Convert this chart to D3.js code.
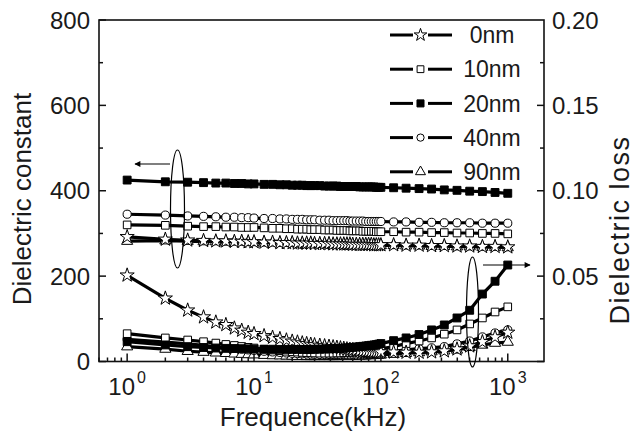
<!DOCTYPE html>
<html>
<head>
<meta charset="utf-8">
<script src="https://cdn.jsdelivr.net/npm/d3@7"></script>
<style>
	body { margin: 0; background: #fff; }
	text { font-family: "Liberation Sans", Arial, sans-serif; fill: #1a1a1a; }
</style>
</head>
<body>
<div id="chart-area"></div>
<script>

// frequencies in kHz
var freq = [1, 2, 3, 4, 5, 6, 7, 8, 9, 10,
	12, 14, 16, 18, 20, 22, 24, 26, 28, 30,
	33, 36, 39, 42, 45, 48, 51, 54, 57, 60,
	64, 68, 72, 76, 80, 84, 88, 92, 96, 100,
	126, 158, 200, 251, 316, 398, 501, 631, 794, 1000];

var sampleNames = ["0nm", "10nm", "20nm", "40nm", "90nm"];

// dielectric constant (left axis)
var eps0 = [292, 286, 284, 283, 282, 282, 281, 281, 280, 280,
	279, 279, 278, 278, 278, 277, 277, 277, 277, 276,
	276, 276, 276, 275, 275, 275, 275, 275, 275, 274,
	274, 274, 274, 274, 274, 274, 273, 273, 273, 273,
	273, 272, 272, 271, 271, 270, 270, 269, 269, 268];
var eps10 = [320, 319, 317, 316, 316, 315, 315, 314, 314, 314,
	313, 312, 312, 311, 311, 310, 310, 310, 309, 309,
	309, 308, 308, 308, 307, 307, 307, 307, 306, 306,
	306, 306, 305, 305, 305, 305, 305, 304, 304, 304,
	304, 303, 303, 302, 302, 301, 301, 300, 300, 299];
var eps20 = [425, 421, 420, 419, 418, 418, 417, 417, 416, 416,
	415, 415, 414, 414, 413, 413, 413, 412, 412, 412,
	412, 411, 411, 411, 411, 410, 410, 410, 410, 410,
	410, 409, 409, 409, 409, 409, 409, 408, 408, 408,
	407, 406, 405, 404, 402, 401, 399, 398, 396, 394];
var eps40 = [345, 343, 341, 340, 339, 338, 338, 337, 337, 336,
	335, 335, 334, 334, 333, 333, 333, 332, 332, 332,
	331, 331, 331, 330, 330, 330, 330, 330, 329, 329,
	329, 329, 329, 328, 328, 328, 328, 328, 328, 328,
	327, 327, 326, 326, 325, 325, 325, 324, 324, 324];
var eps90 = [282, 283, 282, 281, 281, 280, 280, 280, 279, 279,
	278, 278, 277, 277, 277, 276, 276, 276, 276, 275,
	275, 275, 275, 274, 274, 274, 274, 274, 274, 273,
	273, 273, 273, 273, 273, 272, 272, 272, 272, 272,
	272, 271, 271, 270, 270, 269, 269, 268, 268, 267];

// dielectric loss (right axis)
var loss0 = [0.0505, 0.037, 0.030, 0.026, 0.023, 0.0215, 0.0195, 0.0182, 0.017, 0.0162,
	0.015, 0.0141, 0.0133, 0.0125, 0.0118, 0.0113, 0.0108, 0.0104, 0.0100, 0.0097,
	0.0094, 0.0091, 0.0088, 0.0085, 0.0082, 0.0079, 0.0076, 0.0073, 0.0070, 0.0068,
	0.0066, 0.0063, 0.0061, 0.0060, 0.0059, 0.0058, 0.0057, 0.0056, 0.0055, 0.0055,
	0.0054, 0.0053, 0.0053, 0.0055, 0.0061, 0.0072, 0.0090, 0.0115, 0.0143, 0.0170];
var loss10 = [0.0163, 0.0138, 0.0126, 0.0116, 0.0108, 0.0100, 0.0094, 0.0088, 0.0083, 0.0079,
	0.0072, 0.0067, 0.0063, 0.0060, 0.0057, 0.0055, 0.0053, 0.0052, 0.0051, 0.0050,
	0.0049, 0.0049, 0.0049, 0.0049, 0.0050, 0.0050, 0.0051, 0.0052, 0.0053, 0.0054,
	0.0056, 0.0058, 0.0060, 0.0062, 0.0064, 0.0066, 0.0068, 0.0070, 0.0072, 0.0074,
	0.0088, 0.0105, 0.0120, 0.0138, 0.0160, 0.0185, 0.0220, 0.0255, 0.0290, 0.0320];
var loss20 = [0.0116, 0.0097, 0.0087, 0.0082, 0.0079, 0.0077, 0.0076, 0.0075, 0.0074, 0.0073,
	0.0072, 0.0072, 0.0071, 0.0071, 0.0071, 0.0071, 0.0071, 0.0071, 0.0071, 0.0072,
	0.0072, 0.0073, 0.0074, 0.0075, 0.0076, 0.0077, 0.0078, 0.0080, 0.0081, 0.0083,
	0.0085, 0.0087, 0.0089, 0.0091, 0.0093, 0.0095, 0.0097, 0.0099, 0.0102, 0.0105,
	0.0122, 0.0138, 0.0158, 0.0185, 0.0214, 0.0255, 0.0300, 0.0395, 0.0470, 0.0565];
var loss40 = [0.0130, 0.0114, 0.0103, 0.0095, 0.0088, 0.0082, 0.0077, 0.0072, 0.0068, 0.0065,
	0.0060, 0.0056, 0.0053, 0.0050, 0.0048, 0.0046, 0.0045, 0.0044, 0.0043, 0.0042,
	0.0041, 0.0041, 0.0041, 0.0041, 0.0041, 0.0041, 0.0042, 0.0042, 0.0043, 0.0043,
	0.0044, 0.0045, 0.0046, 0.0047, 0.0048, 0.0049, 0.0050, 0.0051, 0.0052, 0.0053,
	0.0060, 0.0068, 0.0075, 0.0080, 0.0087, 0.0103, 0.0120, 0.0144, 0.0167, 0.0185];
var loss90 = [0.0087, 0.0073, 0.0060, 0.0055, 0.0051, 0.0048, 0.0045, 0.0043, 0.0041, 0.0040,
	0.0037, 0.0035, 0.0034, 0.0033, 0.0032, 0.0031, 0.0031, 0.0030, 0.0030, 0.0030,
	0.0030, 0.0030, 0.0030, 0.0030, 0.0030, 0.0031, 0.0031, 0.0031, 0.0032, 0.0032,
	0.0033, 0.0033, 0.0034, 0.0034, 0.0035, 0.0036, 0.0036, 0.0037, 0.0038, 0.0039,
	0.0043, 0.0048, 0.0053, 0.0058, 0.0063, 0.0068, 0.0083, 0.0097, 0.0108, 0.0114];

var epsTicks = [0, 200, 400, 600, 800];
var lossTicks = [0.05, 0.10, 0.15, 0.20];
var freqTicks = [1, 10, 100, 1000];

var width = 636,
	height = 440;
var margin = {top: 20, right: 92, bottom: 78.5, left: 99};

var svg = d3.select("#chart-area").append("svg")
	.attr("width", width)
	.attr("height", height);

var plotW = width - margin.left - margin.right,
	plotH = height - margin.top - margin.bottom;

var g = svg.append("g")
	.attr("transform", "translate(" + margin.left + "," + margin.top + ")");

// scales
var x = d3.scaleLog()
	.domain([0.6, 1930])
	.range([0, plotW]);

var yEps = d3.scaleLinear()
	.domain([0, 800])
	.range([plotH, 0]);

var yLoss = d3.scaleLinear()
	.domain([0, 0.2])
	.range([plotH, 0]);

// symbol for each sample
var symbolType = {
	"0nm": d3.symbolStar,
	"10nm": d3.symbolSquare,
	"20nm": d3.symbolSquare,
	"40nm": d3.symbolCircle,
	"90nm": d3.symbolTriangle
};
var symbolSize = {"0nm": 62, "10nm": 58, "20nm": 62, "40nm": 52, "90nm": 54};
var symbolFill = {"0nm": "#fff", "10nm": "#fff", "20nm": "#000", "40nm": "#fff", "90nm": "#fff"};

var epsData = {"0nm": eps0, "10nm": eps10, "20nm": eps20, "40nm": eps40, "90nm": eps90};
var lossData = {"0nm": loss0, "10nm": loss10, "20nm": loss20, "40nm": loss40, "90nm": loss90};

// drawing order, filled squares on top
var drawOrder = ["90nm", "40nm", "10nm", "0nm", "20nm"];

var drawSeries = function(name, values, yScale) {
	var pts = freq.map(function(f, i) { return [f, values[i]]; });

	var line = d3.line()
		.x(function(d) { return x(d[0]); })
		.y(function(d) { return yScale(d[1]); });

	g.append("path")
		.datum(pts)
		.attr("fill", "none")
		.attr("stroke", "#000")
		.attr("stroke-width", 3.2)
		.attr("d", line);

	g.append("g").selectAll("path")
		.data(pts)
		.enter()
		.append("path")
		.attr("transform", function(d) {
			return "translate(" + x(d[0]) + "," + yScale(d[1]) + ")";
		})
		.attr("d", d3.symbol().type(symbolType[name]).size(symbolSize[name]))
		.attr("fill", symbolFill[name])
		.attr("stroke", "#000")
		.attr("stroke-width", 1);
};

drawOrder.forEach(function(name) {
	drawSeries(name, lossData[name], yLoss);
});
drawOrder.forEach(function(name) {
	drawSeries(name, epsData[name], yEps);
});

// frame and ticks (ticks point inward like Origin)
var axisGroup = g.append("g");

axisGroup.append("rect")
	.attr("width", plotW)
	.attr("height", plotH)
	.attr("fill", "none")
	.attr("stroke", "#111")
	.attr("stroke-width", 1.6);

// left ticks
axisGroup.selectAll(".ltick")
	.data(d3.range(0, 801, 100))
	.enter()
	.append("line")
	.attr("x1", 0)
	.attr("x2", function(d) { return d % 200 === 0 ? 7 : 4; })
	.attr("y1", function(d) { return yEps(d); })
	.attr("y2", function(d) { return yEps(d); })
	.attr("stroke", "#111")
	.attr("stroke-width", 1.5);

// right ticks
axisGroup.selectAll(".rtick")
	.data(d3.range(0, 8).map(function(i) { return 0.025 * i; }))
	.enter()
	.append("line")
	.attr("x1", plotW)
	.attr("x2", function(d, i) { return i % 2 === 0 ? plotW - 7 : plotW - 4; })
	.attr("y1", function(d) { return yLoss(d); })
	.attr("y2", function(d) { return yLoss(d); })
	.attr("stroke", "#111")
	.attr("stroke-width", 1.5);

// bottom log ticks
var minorFreq = [0.6, 0.7, 0.8, 0.9];
[1, 10, 100].forEach(function(dec) {
	for (var k = 2; k <= 9; k++) minorFreq.push(k * dec);
});
axisGroup.selectAll(".btick")
	.data(freqTicks.concat(minorFreq))
	.enter()
	.append("line")
	.attr("x1", function(d) { return x(d); })
	.attr("x2", function(d) { return x(d); })
	.attr("y1", plotH)
	.attr("y2", function(d) { return freqTicks.indexOf(d) >= 0 ? plotH - 8 : plotH - 4; })
	.attr("stroke", "#111")
	.attr("stroke-width", 1.5);

// tick labels
g.selectAll(".ylab")
	.data(epsTicks)
	.enter()
	.append("text")
	.attr("x", -9)
	.attr("y", function(d) { return yEps(d); })
	.attr("dy", "0.36em")
	.attr("text-anchor", "end")
	.style("font-size", "24px")
	.text(function(d) { return d; });

g.selectAll(".rlab")
	.data(lossTicks)
	.enter()
	.append("text")
	.attr("x", plotW + 8)
	.attr("y", function(d) { return yLoss(d); })
	.attr("dy", "0.36em")
	.attr("text-anchor", "start")
	.style("font-size", "24px")
	.text(function(d) { return d3.format(".2f")(d); });

var xlab = g.selectAll(".xlab")
	.data(freqTicks)
	.enter()
	.append("text")
	.attr("x", function(d) { return x(d); })
	.attr("y", plotH + 33)
	.attr("text-anchor", "middle")
	.style("font-size", "24px");
xlab.append("tspan").text("10");
xlab.append("tspan")
	.attr("dy", -12)
	.attr("dx", 2)
	.style("font-size", "16px")
	.text(function(d) { return Math.round(Math.log10(d)); });

// axis titles
svg.append("text")
	.attr("x", 313)
	.attr("y", 426)
	.attr("text-anchor", "middle")
	.style("font-size", "26px")
	.text("Frequence(kHz)");

svg.append("text")
	.attr("transform", "translate(31,199) rotate(-90)")
	.attr("text-anchor", "middle")
	.style("font-size", "26px")
	.text("Dielectric constant");

svg.append("text")
	.attr("transform", "translate(629,230) rotate(-90)")
	.attr("text-anchor", "middle")
	.style("font-size", "27px")
	.style("letter-spacing", "1.5px")
	.text("Dielectric loss");

// legend
var legend = svg.append("g")
	.attr("transform", "translate(390,35)");

var legendRow = legend.selectAll("g")
	.data(sampleNames)
	.enter()
	.append("g")
	.attr("transform", function(d, i) { return "translate(0," + i * 34.2 + ")"; });

legendRow.append("line")
	.attr("x1", 0)
	.attr("x2", 23)
	.attr("stroke", "#000")
	.attr("stroke-width", 3);

legendRow.append("line")
	.attr("x1", 38)
	.attr("x2", 62)
	.attr("stroke", "#000")
	.attr("stroke-width", 3);

legendRow.append("path")
	.attr("transform", "translate(30.5,0)")
	.attr("d", function(d) { return d3.symbol().type(symbolType[d]).size(symbolSize[d] * 0.8)(); })
	.attr("fill", function(d) { return symbolFill[d]; })
	.attr("stroke", "#000")
	.attr("stroke-width", 1);

legendRow.append("text")
	.attr("x", 102)
	.attr("dy", "0.36em")
	.attr("text-anchor", "middle")
	.style("font-size", "23px")
	.text(function(d) { return d; });

// ellipses and arrows marking which curves go with which axis
var defs = svg.append("defs");
defs.append("marker")
	.attr("id", "head")
	.attr("viewBox", "0 0 10 10")
	.attr("refX", 9)
	.attr("refY", 5)
	.attr("markerWidth", 8)
	.attr("markerHeight", 6)
	.attr("markerUnits", "userSpaceOnUse")
	.attr("orient", "auto")
	.append("path")
	.attr("d", "M0,0L10,5L0,10Z")
	.attr("fill", "#000");

svg.append("ellipse")
	.attr("cx", 177.5)
	.attr("cy", 209)
	.attr("rx", 7)
	.attr("ry", 59)
	.attr("fill", "none")
	.attr("stroke", "#000")
	.attr("stroke-width", 1.2);

svg.append("line")
	.attr("x1", 170)
	.attr("y1", 164)
	.attr("x2", 135)
	.attr("y2", 164)
	.attr("stroke", "#000")
	.attr("stroke-width", 1.2)
	.attr("marker-end", "url(#head)");

svg.append("ellipse")
	.attr("cx", 472.5)
	.attr("cy", 312)
	.attr("rx", 6)
	.attr("ry", 55)
	.attr("fill", "none")
	.attr("stroke", "#000")
	.attr("stroke-width", 1.2);

svg.append("line")
	.attr("x1", 483)
	.attr("y1", 265)
	.attr("x2", 530)
	.attr("y2", 265)
	.attr("stroke", "#000")
	.attr("stroke-width", 1.2)
	.attr("marker-end", "url(#head)");

</script>
</body>
</html>
